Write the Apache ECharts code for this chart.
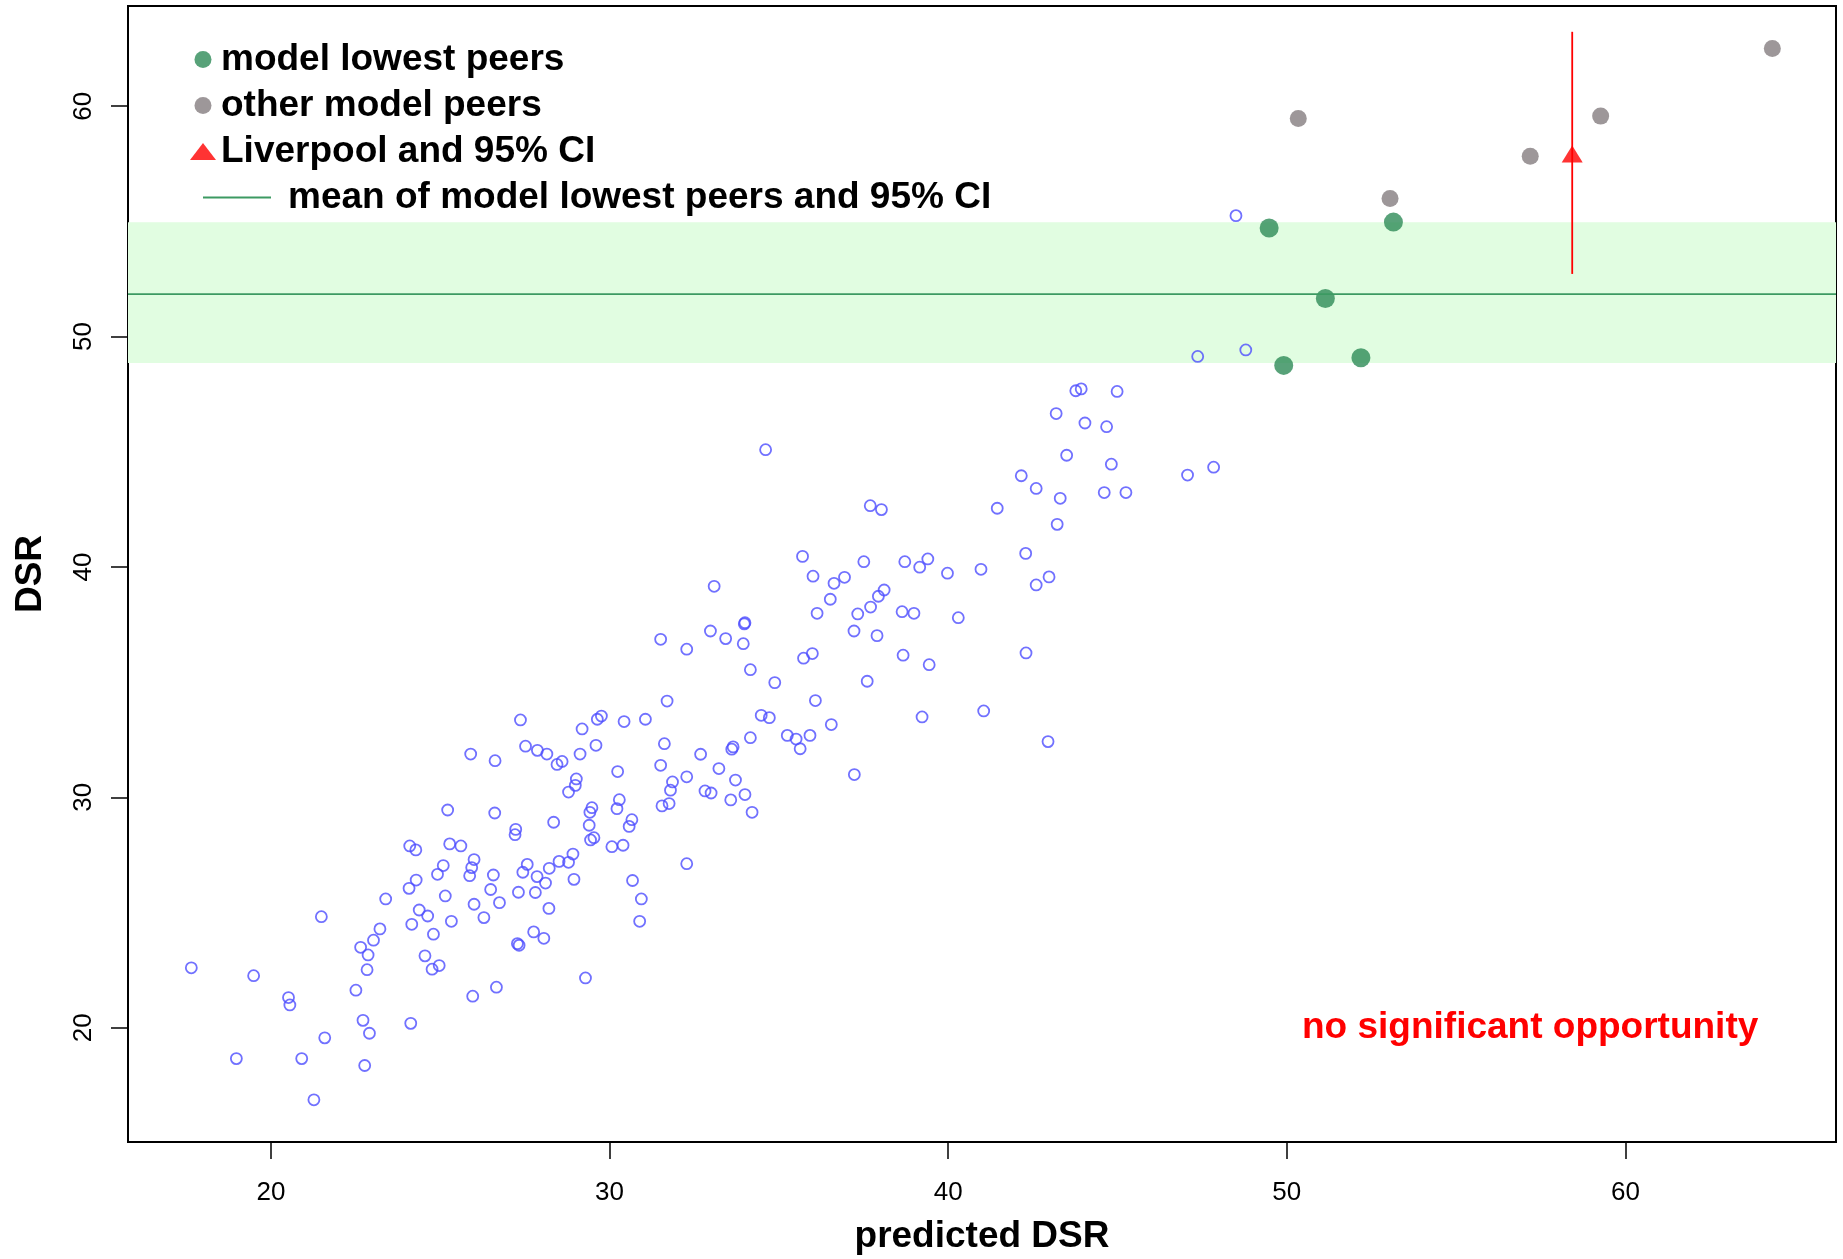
<!DOCTYPE html>
<html>
<head>
<meta charset="utf-8">
<title>DSR vs predicted DSR</title>
<script src="https://cdn.jsdelivr.net/npm/echarts@6/dist/echarts.min.js"></script>
<style>
  html, body { margin: 0; padding: 0; background: #fff; }
  #chart { width: 1843px; height: 1259px; }
</style>
</head>
<body>
<div id="chart"></div>
<script>
// all other providers: [predicted DSR, DSR]
var providers = [
  [27.37,33.36],[29.64,33.39],[29.76,33.53],[30.43,33.29],[31.06,33.39],[31.70,34.18],[29.19,32.97],[25.90,31.88],
  [26.62,31.59],[27.52,32.22],[27.87,32.04],[28.15,31.88],[28.45,31.43],[28.60,31.56],[29.13,31.88],[29.60,32.26],
  [31.62,32.33],[30.24,31.12],[31.51,31.39],[32.28,30.89],[31.86,30.67],[31.80,30.31],[29.02,30.80],[28.99,30.52],
  [28.79,30.23],[30.29,29.90],[30.22,29.51],[29.48,29.55],[29.42,29.35],[31.55,29.63],[31.76,29.73],[25.22,29.45],
  [26.61,29.32],[28.35,28.92],[30.66,29.03],[30.58,28.74],[27.23,28.61],[27.21,28.38],[29.40,28.79],[29.44,28.15],
  [29.54,28.25],[30.07,27.86],[30.40,27.92],[24.10,27.89],[24.28,27.72],[25.28,27.98],[25.61,27.89],[26.00,27.30],
  [25.93,26.95],[25.87,26.60],[25.09,27.04],[24.92,26.66],[26.57,26.63],[27.57,27.09],[27.44,26.75],[27.86,26.56],
  [28.11,26.28],[28.22,26.92],[28.51,27.22],[28.79,27.18],[28.92,27.54],[28.95,26.44],[32.28,27.12],[24.29,26.41],
  [24.08,26.05],[23.39,25.59],[25.15,25.72],[26.49,26.00],[26.75,25.43],[27.31,25.88],[27.81,25.87],[26.00,25.36],
  [26.29,24.78],[28.21,25.18],[30.68,26.39],[30.94,25.59],[30.89,24.62],[24.38,25.11],[24.63,24.85],[25.33,24.62],
  [24.16,24.49],[24.80,24.06],[23.22,24.29],[23.03,23.80],[22.65,23.49],[22.87,23.16],[22.84,22.52],[21.49,24.82],
  [27.76,24.16],[28.06,23.88],[27.28,23.65],[27.33,23.58],[24.55,23.12],[24.97,22.70],[24.76,22.54],[17.65,22.60],
  [19.49,22.26],[20.52,21.31],[20.56,20.99],[22.51,21.63],[25.96,21.37],[26.66,21.76],[29.29,22.16],[22.72,20.32],
  [22.91,19.76],[24.13,20.19],[21.59,19.56],[18.98,18.66],[20.91,18.66],[22.77,18.36],[21.27,16.87],
  [36.08,34.20],[34.48,33.56],[34.72,33.46],[36.55,33.16],[34.16,32.59],[35.25,32.69],[35.51,32.53],[35.92,32.69],
  [35.63,32.11],[33.65,32.19],[33.61,32.09],[32.69,31.87],[33.23,31.25],[33.72,30.75],[32.82,30.28],[33.00,30.19],
  [33.58,29.89],[34.00,30.12],[34.21,29.35],[37.23,30.99],[39.23,33.49],[41.05,33.75],[42.95,32.42],
  [31.51,36.86],[32.28,36.43],
  [47.37,49.14],[43.77,47.65],[43.93,47.73],[44.99,47.62],[43.19,46.66],[44.04,46.25],[44.68,46.09],[43.50,44.85],
  [44.82,44.46],[47.07,43.99],[47.84,44.33],[42.16,43.96],[42.60,43.41],[43.31,42.98],[44.61,43.23],[45.25,43.23],
  [41.45,42.55],[43.22,41.85],[34.61,45.09],[37.70,42.66],[38.03,42.49],[35.70,40.46],[37.51,40.23],[38.72,40.23],
  [39.16,39.99],[39.40,40.35],[39.98,39.73],[40.97,39.90],[42.29,40.59],[42.98,39.57],[42.60,39.22],[33.09,39.16],
  [36.01,39.60],[36.63,39.29],[36.94,39.55],[36.52,38.60],[38.11,39.00],[37.94,38.73],[37.71,38.26],[36.13,37.99],
  [37.33,37.96],[38.64,38.06],[38.99,37.99],[40.30,37.80],[34.00,37.58],[33.98,37.53],[32.98,37.22],[33.43,36.89],
  [33.95,36.67],[37.22,37.22],[37.90,37.02],[35.73,36.04],[35.99,36.24],[38.67,36.17],[39.44,35.76],[42.30,36.27],
  [34.16,35.54],[34.88,34.98],[37.61,35.04],
  [48.50,55.25],[48.79,49.42]
];

// model lowest peers
var lowestX = [49.48, 53.15, 51.14, 49.91, 52.19];
var lowestY = [54.71, 54.97, 51.65, 48.75, 49.08];

// other model peers
var peersX = [50.34, 53.05, 57.19, 59.27, 64.34];
var peersY = [59.47, 55.99, 57.83, 59.57, 62.51];

// Liverpool and its 95% CI
var liverpoolX = 58.43;
var liverpoolY = 57.8;
var liverpoolCI = [52.72, 63.23];

// mean of model lowest peers and its 95% CI
var peerMean = 51.84;
var peerCI = [48.85, 54.96];

var xRange = [15.78, 66.22];
var yRange = [15.04, 64.35];
var xTicks = [20, 30, 40, 50, 60];
var yTicks = [20, 30, 40, 50, 60];

var FONT = "'Liberation Sans', Arial, Helvetica, sans-serif";
var meanName = 'mean of model lowest peers and 95% CI';

function zip(xs, ys) {
  return xs.map(function (x, i) { return [x, ys[i]] })
}

var chart = echarts.init(document.getElementById('chart'));

var legendText = {
  fontSize: 37,
  fontWeight: 'bold',
  color: '#000',
  lineHeight: 37,
  fontFamily: FONT
};

var option = {
  animation: false,
  backgroundColor: '#fff',
  textStyle: { fontFamily: FONT },
  grid: {
    left: 128,
    right: 7,
    top: 6,
    bottom: 117,
    show: true,
    borderColor: '#000',
    borderWidth: 2,
    outerBoundsMode: 'none'
  },
  title: {
    text: 'no significant opportunity',
    left: 1302,
    top: 1009,
    padding: 0,
    textStyle: { color: '#ff0000', fontSize: 37, fontWeight: 'bold', fontFamily: FONT }
  },
  legend: [
    {
      orient: 'vertical',
      left: 190,
      top: 41,
      padding: 0,
      itemWidth: 26,
      itemHeight: 17,
      itemGap: 9,
      selectedMode: false,
      textStyle: legendText,
      data: [
        { name: 'model lowest peers', icon: 'circle' },
        { name: 'other model peers', icon: 'circle' },
        { name: 'Liverpool and 95% CI', icon: 'triangle' }
      ]
    },
    {
      orient: 'vertical',
      left: 203,
      top: 179,
      padding: 0,
      itemWidth: 68,
      itemHeight: 2,
      selectedMode: false,
      textStyle: Object.assign({ padding: [0, 0, 0, 12] }, legendText),
      data: [{ name: meanName, icon: 'rect' }]
    }
  ],
  xAxis: {
    type: 'value',
    min: xRange[0],
    max: xRange[1],
    name: 'predicted DSR',
    nameLocation: 'middle',
    nameGap: 76,
    nameTextStyle: { fontSize: 37, fontWeight: 'bold', color: '#000', fontFamily: FONT },
    axisLine: { show: false },
    axisTick: { show: true, length: 17, customValues: xTicks, lineStyle: { color: '#000', width: 1.5 } },
    axisLabel: { customValues: xTicks, fontSize: 26, color: '#000', margin: 38, fontFamily: FONT },
    splitLine: { show: false }
  },
  yAxis: {
    type: 'value',
    min: yRange[0],
    max: yRange[1],
    name: 'DSR',
    nameLocation: 'middle',
    nameGap: 79,
    nameTextStyle: { fontSize: 37, fontWeight: 'bold', color: '#000', fontFamily: FONT },
    axisLine: { show: false },
    axisTick: { show: true, length: 17, customValues: yTicks, lineStyle: { color: '#000', width: 1.5 } },
    axisLabel: { customValues: yTicks, rotate: 90, fontSize: 26, color: '#000', margin: 31, fontFamily: FONT },
    splitLine: { show: false }
  },
  series: [
    {
      name: meanName,
      type: 'line',
      data: [[xRange[0], peerMean], [xRange[1], peerMean]],
      symbol: 'none',
      lineStyle: { color: '#3c9a62', width: 1.8 },
      itemStyle: { color: '#3c9a62' },
      markArea: {
        silent: true,
        itemStyle: { color: '#e1fde1' },
        data: [[{ yAxis: peerCI[0] }, { yAxis: peerCI[1] }]]
      }
    },
    {
      name: 'providers',
      type: 'scatter',
      data: providers,
      symbol: 'circle',
      symbolSize: 11,
      itemStyle: { color: 'rgba(0,0,0,0)', borderColor: '#4d4dff', borderWidth: 1.8 }
    },
    {
      name: 'model lowest peers',
      type: 'scatter',
      data: zip(lowestX, lowestY),
      symbol: 'circle',
      symbolSize: 19,
      itemStyle: { color: '#2e8b57' }
    },
    {
      name: 'other model peers',
      type: 'scatter',
      data: zip(peersX, peersY),
      symbol: 'circle',
      symbolSize: 17,
      itemStyle: { color: '#857d80' }
    },
    {
      name: 'Liverpool and 95% CI',
      type: 'scatter',
      data: [[liverpoolX, liverpoolY]],
      symbol: 'triangle',
      symbolSize: [21, 17],
      symbolOffset: [0, -3],
      itemStyle: { color: '#ff0000' },
      z: 4
    },
    {
      name: 'Liverpool and 95% CI',
      type: 'line',
      data: [[liverpoolX, liverpoolCI[0]], [liverpoolX, liverpoolCI[1]]],
      symbol: 'none',
      lineStyle: { color: '#ff0000', width: 1.8 },
      z: 3
    }
  ]
};

chart.setOption(option);
</script>
</body>
</html>
